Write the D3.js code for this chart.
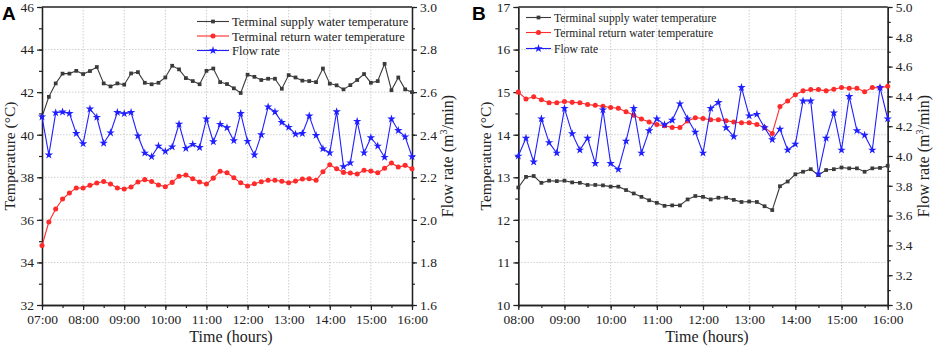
<!DOCTYPE html>
<html>
<head>
<meta charset="utf-8">
<script src="https://cdn.jsdelivr.net/npm/d3@7"></script>
<style>
  body { margin: 0; background: #fff; }
  text { font-family: "Liberation Serif", "Times New Roman", "DejaVu Serif", serif; font-weight: normal; fill: #222; }
</style>
</head>
<body>
<div id="visualization"></div>
<script>
// ---- panel A: 07:00 - 16:00, every 10 min ----
var hoursA = ["07:00","08:00","09:00","10:00","11:00","12:00","13:00","14:00","15:00","16:00"];
var supplyA = [40.84,41.78,42.41,42.87,42.87,43.00,42.85,42.99,43.18,42.41,42.27,42.41,42.35,42.88,42.94,
  42.44,42.37,42.44,42.69,43.24,43.07,42.66,42.52,42.37,43.00,43.11,42.47,42.38,42.18,41.96,
  42.82,42.72,42.57,42.63,42.63,42.16,42.80,42.69,42.54,42.52,42.47,43.11,42.40,42.32,42.13,
  42.33,42.57,42.85,42.44,42.52,43.33,42.09,42.69,42.13,42.00];
var returnA = [34.79,35.90,36.51,36.98,37.26,37.50,37.50,37.62,37.73,37.80,37.68,37.50,37.45,37.54,37.78,
  37.89,37.80,37.64,37.56,37.76,38.05,38.11,37.93,37.78,37.68,37.96,38.28,38.21,37.98,37.74,
  37.59,37.70,37.79,37.86,37.86,37.81,37.74,37.82,37.92,37.93,37.86,38.26,38.59,38.40,38.23,
  38.20,38.15,38.33,38.29,38.21,38.42,38.67,38.48,38.56,38.40];
var flowA = [2.484,2.305,2.503,2.507,2.500,2.406,2.358,2.521,2.482,2.360,2.409,2.505,2.499,2.505,2.394,
  2.314,2.297,2.347,2.322,2.343,2.450,2.336,2.355,2.340,2.474,2.367,2.449,2.433,2.372,2.500,
  2.369,2.305,2.400,2.531,2.507,2.458,2.435,2.403,2.406,2.488,2.397,2.334,2.315,2.508,2.250,
  2.268,2.463,2.315,2.386,2.347,2.294,2.474,2.420,2.390,2.297];

// ---- panel B: 08:00 - 16:00, every 10 min ----
var hoursB = ["08:00","09:00","10:00","11:00","12:00","13:00","14:00","15:00","16:00"];
var supplyB = [12.76,13.01,13.03,12.87,12.92,12.91,12.92,12.88,12.87,12.82,12.82,12.81,12.78,12.78,12.70,
  12.62,12.54,12.46,12.40,12.33,12.34,12.34,12.48,12.56,12.54,12.48,12.52,12.52,12.47,12.42,
  12.43,12.42,12.32,12.23,12.79,12.90,13.07,13.13,13.19,13.05,13.17,13.19,13.23,13.21,13.21,
  13.13,13.21,13.22,13.27];
var returnB = [15.00,14.84,14.89,14.82,14.75,14.75,14.78,14.76,14.75,14.71,14.69,14.67,14.64,14.62,14.54,
  14.46,14.37,14.30,14.24,14.21,14.17,14.17,14.32,14.40,14.38,14.35,14.35,14.33,14.30,14.28,
  14.28,14.24,14.17,14.03,14.66,14.79,14.94,15.03,15.06,15.06,15.03,15.07,15.11,15.09,15.09,
  15.01,15.11,15.10,15.14];
var flowB = [4.00,4.12,3.96,4.25,4.09,4.02,4.32,4.15,4.04,4.12,3.95,4.31,3.95,3.91,4.10,
  4.32,4.02,4.17,4.25,4.21,4.24,4.35,4.25,4.16,4.02,4.32,4.36,4.19,4.13,4.46,
  4.27,4.28,4.19,4.11,4.18,4.04,4.08,4.37,4.37,3.88,4.12,4.29,4.04,4.40,4.17,
  4.14,4.04,4.46,4.25];

var legendNames = ["Terminal supply water temperature","Terminal return water temperature","Flow rate"];
var colors = ["#3a3a3a","#ff2a2a","#1f1fff"];

var svg = d3.select("#visualization").append("svg")
    .attr("width", 934)
    .attr("height", 349);

function toMin(s){ var p = s.split(":"); return +p[0]*60 + +p[1]; }

function draw_panel(o){
    var top = 7, bottom = 305;
    var start = toMin(o.hours[0]), end = toMin(o.hours[o.hours.length-1]);
    var times = d3.range(o.supply.length).map(function(i){ return start + 10*i; });

    var xScale = d3.scaleLinear().domain([start, end]).range([o.left, o.right]);
    var yT = d3.scaleLinear().domain(o.tDomain).range([bottom, top]);
    var yF = d3.scaleLinear().domain(o.fDomain).range([bottom, top]);

    var g = svg.append("g");

    // dotted grid
    var hourVals = o.hours.map(toMin);
    g.selectAll(".vgrid").data(hourVals.slice(1, -1)).enter().append("line")
        .attr("x1", function(d){ return xScale(d); }).attr("x2", function(d){ return xScale(d); })
        .attr("y1", top).attr("y2", bottom)
        .attr("stroke", "#cfcfcf").attr("stroke-dasharray", "1.5,1.5");
    g.selectAll(".hgrid").data(o.tTicks.slice(1, -1)).enter().append("line")
        .attr("x1", o.left).attr("x2", o.right)
        .attr("y1", function(d){ return yT(d); }).attr("y2", function(d){ return yT(d); })
        .attr("stroke", "#cfcfcf").attr("stroke-dasharray", "1.5,1.5");

    // axes
    function style_axis(sel){
        sel.attr("font-family", null);
        sel.selectAll("path.domain").attr("stroke", "#222").attr("stroke-width", 1.3);
        sel.selectAll(".tick line").attr("stroke", "#222").attr("stroke-width", 1.2);
        sel.selectAll("text").style("font-size", "13.5px").attr("fill", "#222");
    }
    var minorX = d3.range(start, end + 1, 30);
    var xg = g.append("g").attr("transform", "translate(0," + bottom + ")")
        .call(d3.axisBottom(xScale).tickValues(minorX).tickFormat("").tickSize(3).tickSizeOuter(0));
    style_axis(xg);
    var xg2 = g.append("g").attr("transform", "translate(0," + bottom + ")")
        .call(d3.axisBottom(xScale).tickValues(hourVals).tickFormat(function(d, i){ return o.hours[i]; })
            .tickSize(5).tickSizeOuter(0).tickPadding(4));
    style_axis(xg2);

    var yl = g.append("g").attr("transform", "translate(" + o.left + ",0)")
        .call(d3.axisLeft(yT).tickValues(o.tMinor).tickFormat("").tickSize(3).tickSizeOuter(0));
    style_axis(yl);
    var yl2 = g.append("g").attr("transform", "translate(" + o.left + ",0)")
        .call(d3.axisLeft(yT).tickValues(o.tTicks).tickFormat(d3.format("d")).tickSize(5).tickSizeOuter(0).tickPadding(3));
    style_axis(yl2);

    var yr = g.append("g").attr("transform", "translate(" + o.right + ",0)")
        .call(d3.axisRight(yF).tickValues(o.fMinor).tickFormat("").tickSize(3).tickSizeOuter(0));
    style_axis(yr);
    var yr2 = g.append("g").attr("transform", "translate(" + o.right + ",0)")
        .call(d3.axisRight(yF).tickValues(o.fTicks).tickFormat(d3.format(".1f")).tickSize(5).tickSizeOuter(0).tickPadding(3));
    style_axis(yr2);

    g.append("line").attr("x1", o.left).attr("x2", o.right).attr("y1", top).attr("y2", top)
        .attr("stroke", "#222").attr("stroke-width", 1.3);

    // axis titles
    g.append("text").attr("x", (o.left + o.right) / 2 + 4).attr("y", 342)
        .attr("text-anchor", "middle").style("font-size", "16px").text("Time (hours)");
    g.append("text").attr("transform", "translate(" + (o.left - 27.5) + "," + ((top + bottom) / 2) + ") rotate(-90)")
        .attr("text-anchor", "middle").style("font-size", "15.5px").text("Temperature (°C)");
    var ft = g.append("text").attr("transform", "translate(" + (o.right + 41) + "," + ((top + bottom) / 2) + ") rotate(-90)")
        .attr("text-anchor", "middle").style("font-size", "16px");
    ft.append("tspan").text("Flow rate (m");
    ft.append("tspan").attr("dy", -6).style("font-size", "10px").text("3");
    ft.append("tspan").attr("dy", 6).text("/min)");

    // panel letter
    svg.append("text").attr("x", o.letterX).attr("y", 20)
        .style("font-family", "'Liberation Sans', Arial, sans-serif")
        .style("font-weight", "bold").style("font-size", "19px").style("fill", "#000").text(o.letter);

    var series = [
        {vals: o.supply, y: yT, sym: d3.symbolSquare, size: 14},
        {vals: o.ret, y: yT, sym: d3.symbolCircle, size: 20},
        {vals: o.flow, y: yF, sym: d3.symbolStar, size: 22}
    ];
    series.forEach(function(s, k){
        var data = s.vals.map(function(v, i){ return {t: times[i], v: v}; });
        var line = d3.line()
            .x(function(d){ return xScale(d.t); })
            .y(function(d){ return s.y(d.v); });
        g.append("path").datum(data)
            .attr("d", line).attr("fill", "none")
            .attr("stroke", colors[k]).attr("stroke-width", 1.1);
        g.selectAll(".dot" + k).data(data).enter().append("path")
            .attr("transform", function(d){ return "translate(" + xScale(d.t) + "," + s.y(d.v) + ")"; })
            .attr("d", d3.symbol().type(s.sym).size(s.size))
            .attr("fill", colors[k]);

        // legend row
        var ly = o.legY[k];
        g.append("line").attr("x1", o.legX).attr("x2", o.legX + o.legLen).attr("y1", ly).attr("y2", ly)
            .attr("stroke", colors[k]).attr("stroke-width", 1.1);
        g.append("path").attr("transform", "translate(" + (o.legX + o.legLen / 2) + "," + ly + ")")
            .attr("d", d3.symbol().type(s.sym).size(s.size)).attr("fill", colors[k]);
        g.append("text").attr("x", o.legX + o.legLen + 3).attr("y", ly + 4.5)
            .style("font-size", o.legFont).text(legendNames[k]);
    });
}

draw_panel({
    letter: "A", letterX: 2,
    left: 42, right: 412, hours: hoursA,
    supply: supplyA, ret: returnA, flow: flowA,
    tDomain: [32, 46], tTicks: [32,34,36,38,40,42,44,46], tMinor: d3.range(32, 47, 1),
    fDomain: [1.6, 3.0], fTicks: [1.6,1.8,2.0,2.2,2.4,2.6,2.8,3.0], fMinor: d3.range(16, 31, 1).map(function(d){ return d / 10; }),
    legX: 197, legLen: 32, legY: [21.5, 36, 50.5], legFont: "12.6px"
});
draw_panel({
    letter: "B", letterX: 472,
    left: 518.3, right: 887.7, hours: hoursB,
    supply: supplyB, ret: returnB, flow: flowB,
    tDomain: [10, 17], tTicks: [10,11,12,13,14,15,16,17], tMinor: d3.range(20, 35, 1).map(function(d){ return d / 2; }),
    fDomain: [3.0, 5.0], fTicks: [3.0,3.2,3.4,3.6,3.8,4.0,4.2,4.4,4.6,4.8,5.0], fMinor: d3.range(30, 51, 1).map(function(d){ return d / 10; }),
    legX: 526, legLen: 25, legY: [17.5, 32.5, 48.5], legFont: "11.6px"
});
</script>
</body>
</html>
